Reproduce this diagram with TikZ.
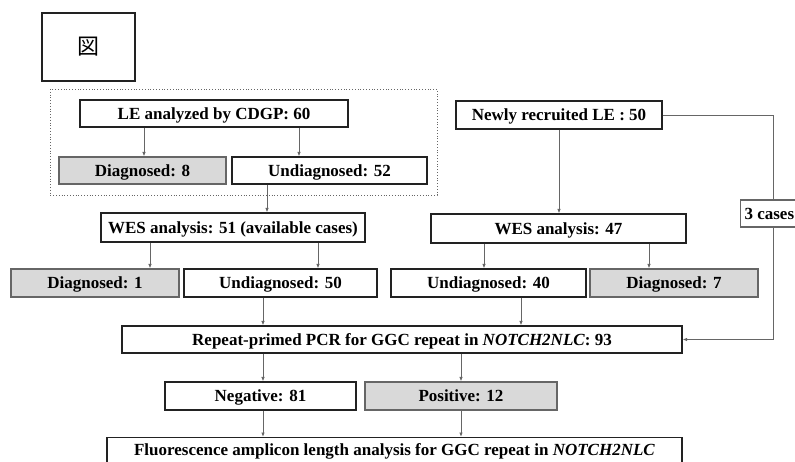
\documentclass[tikz,border=0pt]{standalone}
\usepackage{fontspec}
\setmainfont{Liberation Serif}
\newfontfamily\cjk{Noto Sans CJK JP}
\usetikzlibrary{arrows.meta}
\definecolor{boxgray}{HTML}{D9D9D9}
\definecolor{linegray}{HTML}{666666}
\definecolor{edge}{HTML}{222222}
\begin{document}
\begin{tikzpicture}[x=1pt,y=-1pt,
  box/.style={draw=edge, line width=1.1pt, fill=white, inner sep=0pt,
    text height=11.6pt, text depth=0pt,
    font=\fontsize{17}{20}\selectfont\bfseries, text=black},
  gbox/.style={box, draw=linegray, fill=boxgray},
  conn/.style={draw=linegray, line width=0.9pt},
  arr/.style={conn, -{Latex[length=4.5pt,width=3.5pt]}}]
\useasboundingbox (0,0) rectangle (795,462);
% figure placeholder
\node[draw=edge, line width=1.1pt, minimum width=93pt, minimum height=68pt, inner sep=0pt,
  font=\cjk\fontsize{22}{24}\selectfont] (fig) at (88.5,47) {図};
% dotted group
\draw[linegray, line width=0.8pt, dotted] (50,89) rectangle (437,195);
% left column
\node[box, minimum width=268pt, minimum height=27pt] (cdgp) at (214,113.5) {LE analyzed by CDGP: 60};
\node[gbox, minimum width=167pt, minimum height=27pt] (d8) at (142.5,170.5) {Diagnosed: 8};
\node[box, minimum width=195pt, minimum height=27pt] (u52) at (329.5,170.5) {Undiagnosed: 52};
\node[box, minimum width=264pt, minimum height=29pt] (wes51) at (233,227.5) {WES analysis: 51 (available cases)};
\node[gbox, minimum width=168pt, minimum height=28pt] (d1) at (95,283) {Diagnosed: 1};
\node[box, minimum width=193pt, minimum height=28pt] (u50) at (280.5,283) {Undiagnosed: 50};
% right column
\node[box, minimum width=206pt, minimum height=28pt] (newly) at (559,115) {Newly recruited LE : 50};
\node[box, minimum width=255pt, minimum height=29pt] (wes47) at (558.5,228.5) {WES analysis: 47};
\node[box, minimum width=195pt, minimum height=28pt] (u40) at (488.5,283) {Undiagnosed: 40};
\node[gbox, minimum width=168pt, minimum height=28pt] (d7) at (674,283) {Diagnosed: 7};
\node[box, draw=linegray, minimum width=70pt, minimum height=27pt, anchor=west] (cases) at (740,213.5) {};
\node[box, draw=none, fill=none, anchor=west] (casestext) at (744,213.5) {3 cases};
% bottom
\node[box, minimum width=560pt, minimum height=27pt] (pcr) at (402,339.5)
  {Repeat-primed PCR for GGC repeat in \textit{NOTCH2NLC}: 93};
\node[box, minimum width=191pt, minimum height=28pt] (neg) at (260.5,396) {Negative: 81};
\node[gbox, minimum width=192pt, minimum height=28pt] (pos) at (461,396) {Positive: 12};
\node[box, minimum width=575pt, minimum height=34pt, anchor=north] (flu) at (394.5,437) {};
\node[box, draw=none, fill=none] (flutext) at (394.5,449.5)
  {Fluorescence amplicon length analysis for GGC repeat in \textit{NOTCH2NLC}};
% connectors
\draw[arr] (cdgp.south -| 144,0) -- (d8.north -| 144,0);
\draw[arr] (cdgp.south -| 299,0) -- (u52.north -| 299,0);
\draw[arr] (u52.south -| 267,0) -- (wes51.north -| 267,0);
\draw[arr] (wes51.south -| 150,0) -- (d1.north -| 150,0);
\draw[arr] (wes51.south -| 318,0) -- (u50.north -| 318,0);
\draw[arr] (u50.south -| 263,0) -- (pcr.north -| 263,0);
\draw[arr] (newly.south) -- (wes47.north -| newly.south);
\draw[arr] (wes47.south -| 484,0) -- (u40.north -| 484,0);
\draw[arr] (wes47.south -| 649,0) -- (d7.north -| 649,0);
\draw[arr] (u40.south -| 521,0) -- (pcr.north -| 521,0);
\draw[conn] (newly.east) -| (cases.north -| 773,0);
\draw[arr] (cases.south -| 773,0) |- (pcr.east);
\draw[arr] (pcr.south -| 263,0) -- (neg.north -| 263,0);
\draw[arr] (pcr.south -| 461,0) -- (pos.north -| 461,0);
\draw[arr] (neg.south -| 263,0) -- (flu.north -| 263,0);
\draw[arr] (pos.south -| 461,0) -- (flu.north -| 461,0);
\end{tikzpicture}
\end{document}
